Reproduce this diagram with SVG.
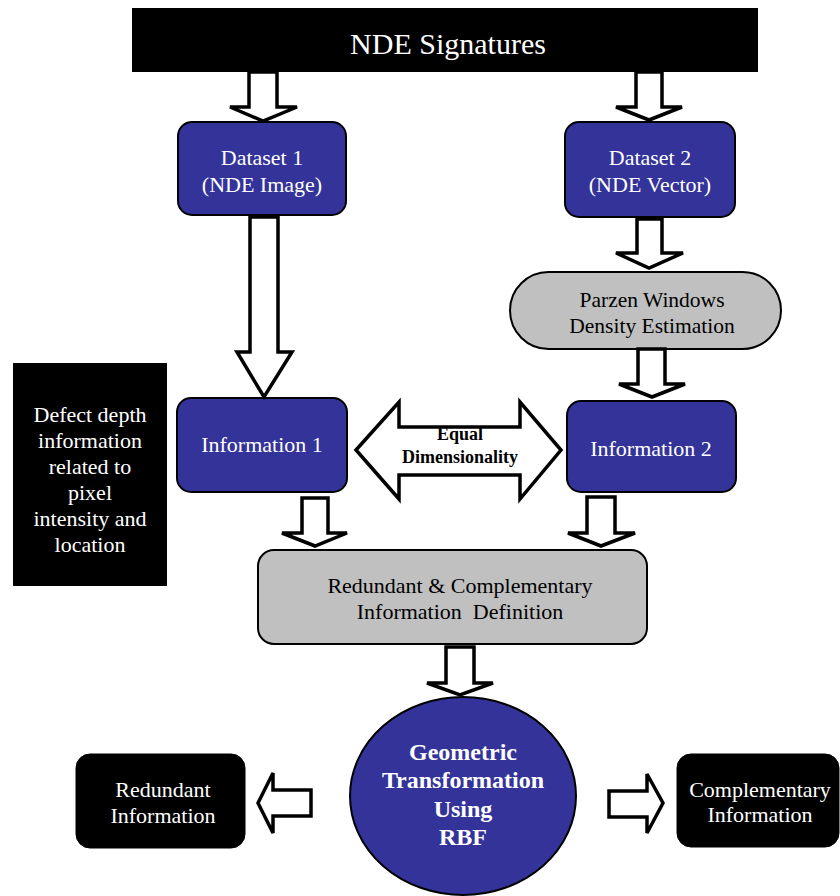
<svg xmlns="http://www.w3.org/2000/svg" width="840" height="896" viewBox="0 0 840 896">
<style>
text{font-family:'Liberation Serif','Tinos','Times New Roman',Times,serif;text-anchor:middle}
.w{fill:#ffffff}
.k{fill:#000000}
.blue{fill:#333399;stroke:#000;stroke-width:2}
.gray{fill:#c0c0c0;stroke:#000;stroke-width:2}
.blk{fill:#000;stroke:#000;stroke-width:1}
.arr{fill:#fff;stroke:#000;stroke-width:3.5;stroke-linejoin:miter}
</style>
<rect width="840" height="896" fill="#fff"/>
<g id="banner">
<rect x="132" y="8" width="626" height="64" fill="#000"/>
<text class="w" x="448" y="54" font-size="30">NDE Signatures</text>
</g>
<g id="dataset1">
<rect class="blue" x="178" y="122" width="168" height="93" rx="14"/>
<text class="w" x="262" y="165" font-size="22">Dataset 1</text>
<text class="w" x="262" y="192" font-size="22">(NDE Image)</text>
</g>
<g id="dataset2">
<rect class="blue" x="565" y="122" width="170" height="95" rx="14"/>
<text class="w" x="650" y="165" font-size="22">Dataset 2</text>
<text class="w" x="650" y="192" font-size="22">(NDE Vector)</text>
</g>
<g id="parzen">
<rect class="gray" x="510" y="272" width="271" height="77" rx="38.5"/>
<text class="k" x="652" y="307" font-size="21.5">Parzen Windows</text>
<text class="k" x="652" y="333" font-size="21.5">Density Estimation</text>
</g>
<g id="defect">
<rect x="13" y="363" width="154" height="223" fill="#000"/>
<text class="w" font-size="22"><tspan x="90" y="422">Defect depth</tspan><tspan x="90" y="448">information</tspan><tspan x="90" y="474">related to</tspan><tspan x="90" y="500">pixel</tspan><tspan x="90" y="526">intensity and</tspan><tspan x="90" y="552">location</tspan></text>
</g>
<g id="info1">
<rect class="blue" x="177" y="398" width="170" height="94" rx="14"/>
<text class="w" x="262" y="452" font-size="22">Information 1</text>
</g>
<g id="info2">
<rect class="blue" x="567" y="401" width="169" height="91" rx="14"/>
<text class="w" x="651" y="456" font-size="22">Information 2</text>
</g>
<g id="redcomp">
<rect class="gray" x="258" y="550" width="389" height="94" rx="16"/>
<text class="k" x="460" y="593" font-size="22">Redundant &amp; Complementary</text>
<text class="k" x="460" y="619" font-size="22" xml:space="preserve">Information  Definition</text>
</g>
<g id="geometric">
<ellipse class="blue" cx="463" cy="796" rx="113" ry="99"/>
<text class="w" font-size="24" font-weight="bold"><tspan x="463" y="760">Geometric</tspan><tspan x="463" y="788">Transformation</tspan><tspan x="463" y="817">Using</tspan><tspan x="463" y="845">RBF</tspan></text>
</g>
<g id="redundant">
<rect class="blk" x="76" y="754" width="169" height="94" rx="14"/>
<text class="w" x="163" y="797" font-size="22">Redundant</text>
<text class="w" x="163" y="823" font-size="22">Information</text>
</g>
<g id="complementary">
<rect class="blk" x="677" y="754" width="162" height="93" rx="14"/>
<text class="w" x="760" y="797" font-size="22">Complementary</text>
<text class="w" x="760" y="822" font-size="22">Information</text>
</g>
<g id="connectors">
<path class="arr" d="M249 72 L277 72 L277 107 L297 107 L263 121 L230 107 L249 107 Z"/>
<path class="arr" d="M636 72 L662 72 L662 107 L682 107 L649 120 L616 107 L636 107 Z"/>
<path class="arr" d="M250 217 L278 217 L278 352 L292 352 L264 397 L237 352 L250 352 Z"/>
<path class="arr" d="M637 219 L662 219 L662 253 L683 253 L649 268 L616 253 L637 253 Z"/>
<path class="arr" d="M638 349 L665 349 L665 384 L685 384 L652 397 L619 384 L638 384 Z"/>
<path class="arr" d="M302 498 L328 498 L328 533 L347 533 L315 546 L282 533 L302 533 Z"/>
<path class="arr" d="M587 497 L615 497 L615 533 L635 533 L601 546 L568 533 L587 533 Z"/>
<path class="arr" d="M446 647 L474 647 L474 683 L493 683 L460 695 L427 683 L446 683 Z"/>
<path class="arr" d="M311 790 L311 816 L273 816 L273 833 L258 803 L273 773 L273 790 Z"/>
<path class="arr" d="M609 791 L647 791 L647 774 L663 803 L647 833 L647 817 L609 817 Z"/>
<path class="arr" d="M356 450 L399 402 L399 427 L520 427 L520 402 L561 450 L520 499 L520 475 L399 475 L399 499 Z"/>
<text class="k" x="460" y="440" font-size="18" font-weight="bold">Equal</text>
<text class="k" x="460" y="463" font-size="18" font-weight="bold">Dimensionality</text>
</g>
</svg>
